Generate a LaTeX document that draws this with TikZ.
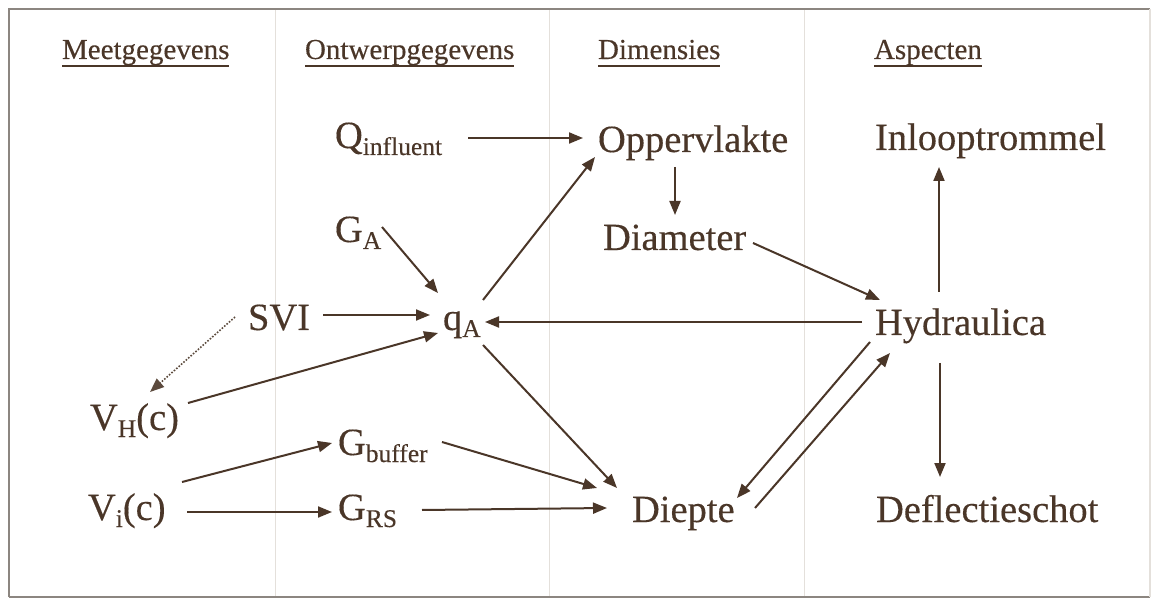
\documentclass[tikz,border=0pt]{standalone}
\usepackage{fontspec}
\setmainfont[FakeBold=0.3]{Liberation Serif}
\usetikzlibrary{arrows.meta}
\definecolor{ink}{HTML}{4A3628}
\definecolor{framec}{HTML}{8C8680}
\definecolor{sepc}{HTML}{E4E0DB}
\newcommand\lsub[1]{\raisebox{-7pt}{\fontsize{25.5}{26}\selectfont #1}}
\begin{document}
\begin{tikzpicture}[x=1pt,y=-1pt,
  lab/.style={anchor=base west,inner sep=0pt,outer sep=0pt,text=ink,font=\fontsize{38.5}{40}\selectfont},
  head/.style={anchor=base west,inner sep=0pt,outer sep=0pt,text=ink,font=\fontsize{29}{30}\selectfont},
  arr/.style={draw=ink,line width=2pt,-{Triangle[length=14pt,width=11pt]}},
  dotarr/.style={draw=ink!90,line width=1.6pt,dash pattern=on 1.6pt off 1.6pt,-{Triangle[length=14pt,width=11pt]}},
  uline/.style={draw=ink,line width=1.6pt},
  colsep/.style={draw=sepc,line width=1pt},
]
\useasboundingbox (0,0) rectangle (1154,601);
\fill[white] (0,0) rectangle (1154,601);
% column separators
\coordinate (s1t) at (275,10); \coordinate (s1b) at (275,597);
\coordinate (s2t) at (549,10); \coordinate (s2b) at (549,597);
\coordinate (s3t) at (804,10); \coordinate (s3b) at (804,597);
\draw[colsep] (s1t) -- (s1b);
\draw[colsep] (s2t) -- (s2b);
\draw[colsep] (s3t) -- (s3b);
% frame
\coordinate (ftl) at (9,9); \coordinate (fbr) at (1150,597);
\draw[framec,line width=2pt] (fbr -| ftl) -- (ftl) -- (ftl -| fbr);
\draw[framec,line width=2pt] (fbr -| ftl) -- (fbr);
\draw[sepc,line width=1.2pt] (ftl -| fbr) -- (fbr);
% headers
\node[head] (h1) at (62,59) {Meetgegevens};
\node[head] (h2) at (305,59) {Ontwerpgegevens};
\node[head] (h3) at (598,59) {Dimensies};
\node[head] (h4) at (874,59) {Aspecten};
\foreach \n in {h1,h2,h3,h4}
  \draw[uline] ([yshift=-7pt]\n.base west) -- ([yshift=-7pt]\n.base east);
% nodes
\node[lab] (qinf) at (335,148) {Q\lsub{influent}};
\node[lab] (opp)  at (598,152) {Oppervlakte};
\node[lab] (inl)  at (875,150) {Inlooptrommel};
\node[lab] (ga)   at (335,242) {G\lsub{A}};
\node[lab] (diam) at (603,250) {Diameter};
\node[lab] (svi)  at (248,330) {SVI};
\node[lab] (qa)   at (443,330) {q\lsub{A}};
\node[lab] (hyd)  at (875,335) {Hydraulica};
\node[lab] (vh)   at (90,430)  {V\lsub{H}(c)};
\node[lab] (gbuf) at (338,455) {G\lsub{buffer}};
\node[lab] (vi)   at (88,520)  {V\lsub{i}(c)};
\node[lab] (grs)  at (338,520) {G\lsub{RS}};
\node[lab] (diep) at (632,522) {Diepte};
\node[lab] (defl) at (876,522) {Deflectieschot};
% connectors
\draw[arr] ([shift={(133,-10)}]qinf.base west) -- ([shift={(-15,-14)}]opp.base west);
\draw[arr] ([shift={(77,15)}]opp.base west) -- ([shift={(72,-35)}]diam.base west);
\draw[arr] ([shift={(47,-15)}]ga.base west) -- ([shift={(-5,-37)}]qa.base west);
\draw[arr] ([shift={(40,-30)}]qa.base west) -- ([shift={(-3,5)}]opp.base west);
\draw[arr] ([shift={(75,-15)}]svi.base west) -- ([shift={(-13,-15)}]qa.base west);
\draw[arr] ([shift={(-13,-13)}]hyd.base west) -- ([shift={(42,-8)}]qa.base west);
\draw[arr] ([shift={(150,-7)}]diam.base west) -- ([shift={(5,-35)}]hyd.base west);
\draw[arr] ([shift={(64,-43)}]hyd.base west) -- ([shift={(64,17)}]inl.base west);
\draw[arr] ([shift={(65,28)}]hyd.base west) -- ([shift={(64,-45)}]defl.base west);
\draw[dotarr] ([shift={(-13,-13)}]svi.base west) -- ([shift={(60,-38)}]vh.base west);
\draw[arr] ([shift={(98,-27)}]vh.base west) -- ([shift={(-5,3)}]qa.base west);
\draw[arr] ([shift={(94,-38)}]vi.base west) -- ([shift={(-6,-12)}]gbuf.base west);
\draw[arr] ([shift={(99,-8)}]vi.base west) -- ([shift={(-6,-8)}]grs.base west);
\draw[arr] ([shift={(104,-13)}]gbuf.base west) -- ([shift={(-35,-34)}]diep.base west);
\draw[arr] ([shift={(84,-10)}]grs.base west) -- ([shift={(-25,-14)}]diep.base west);
\draw[arr] ([shift={(40,15)}]qa.base west) -- ([shift={(-15,-34)}]diep.base west);
\draw[arr] ([shift={(-5,7)}]hyd.base west) -- ([shift={(105,-24)}]diep.base west);
\draw[arr] ([shift={(123,-14)}]diep.base west) -- ([shift={(15,18)}]hyd.base west);
\end{tikzpicture}
\end{document}
